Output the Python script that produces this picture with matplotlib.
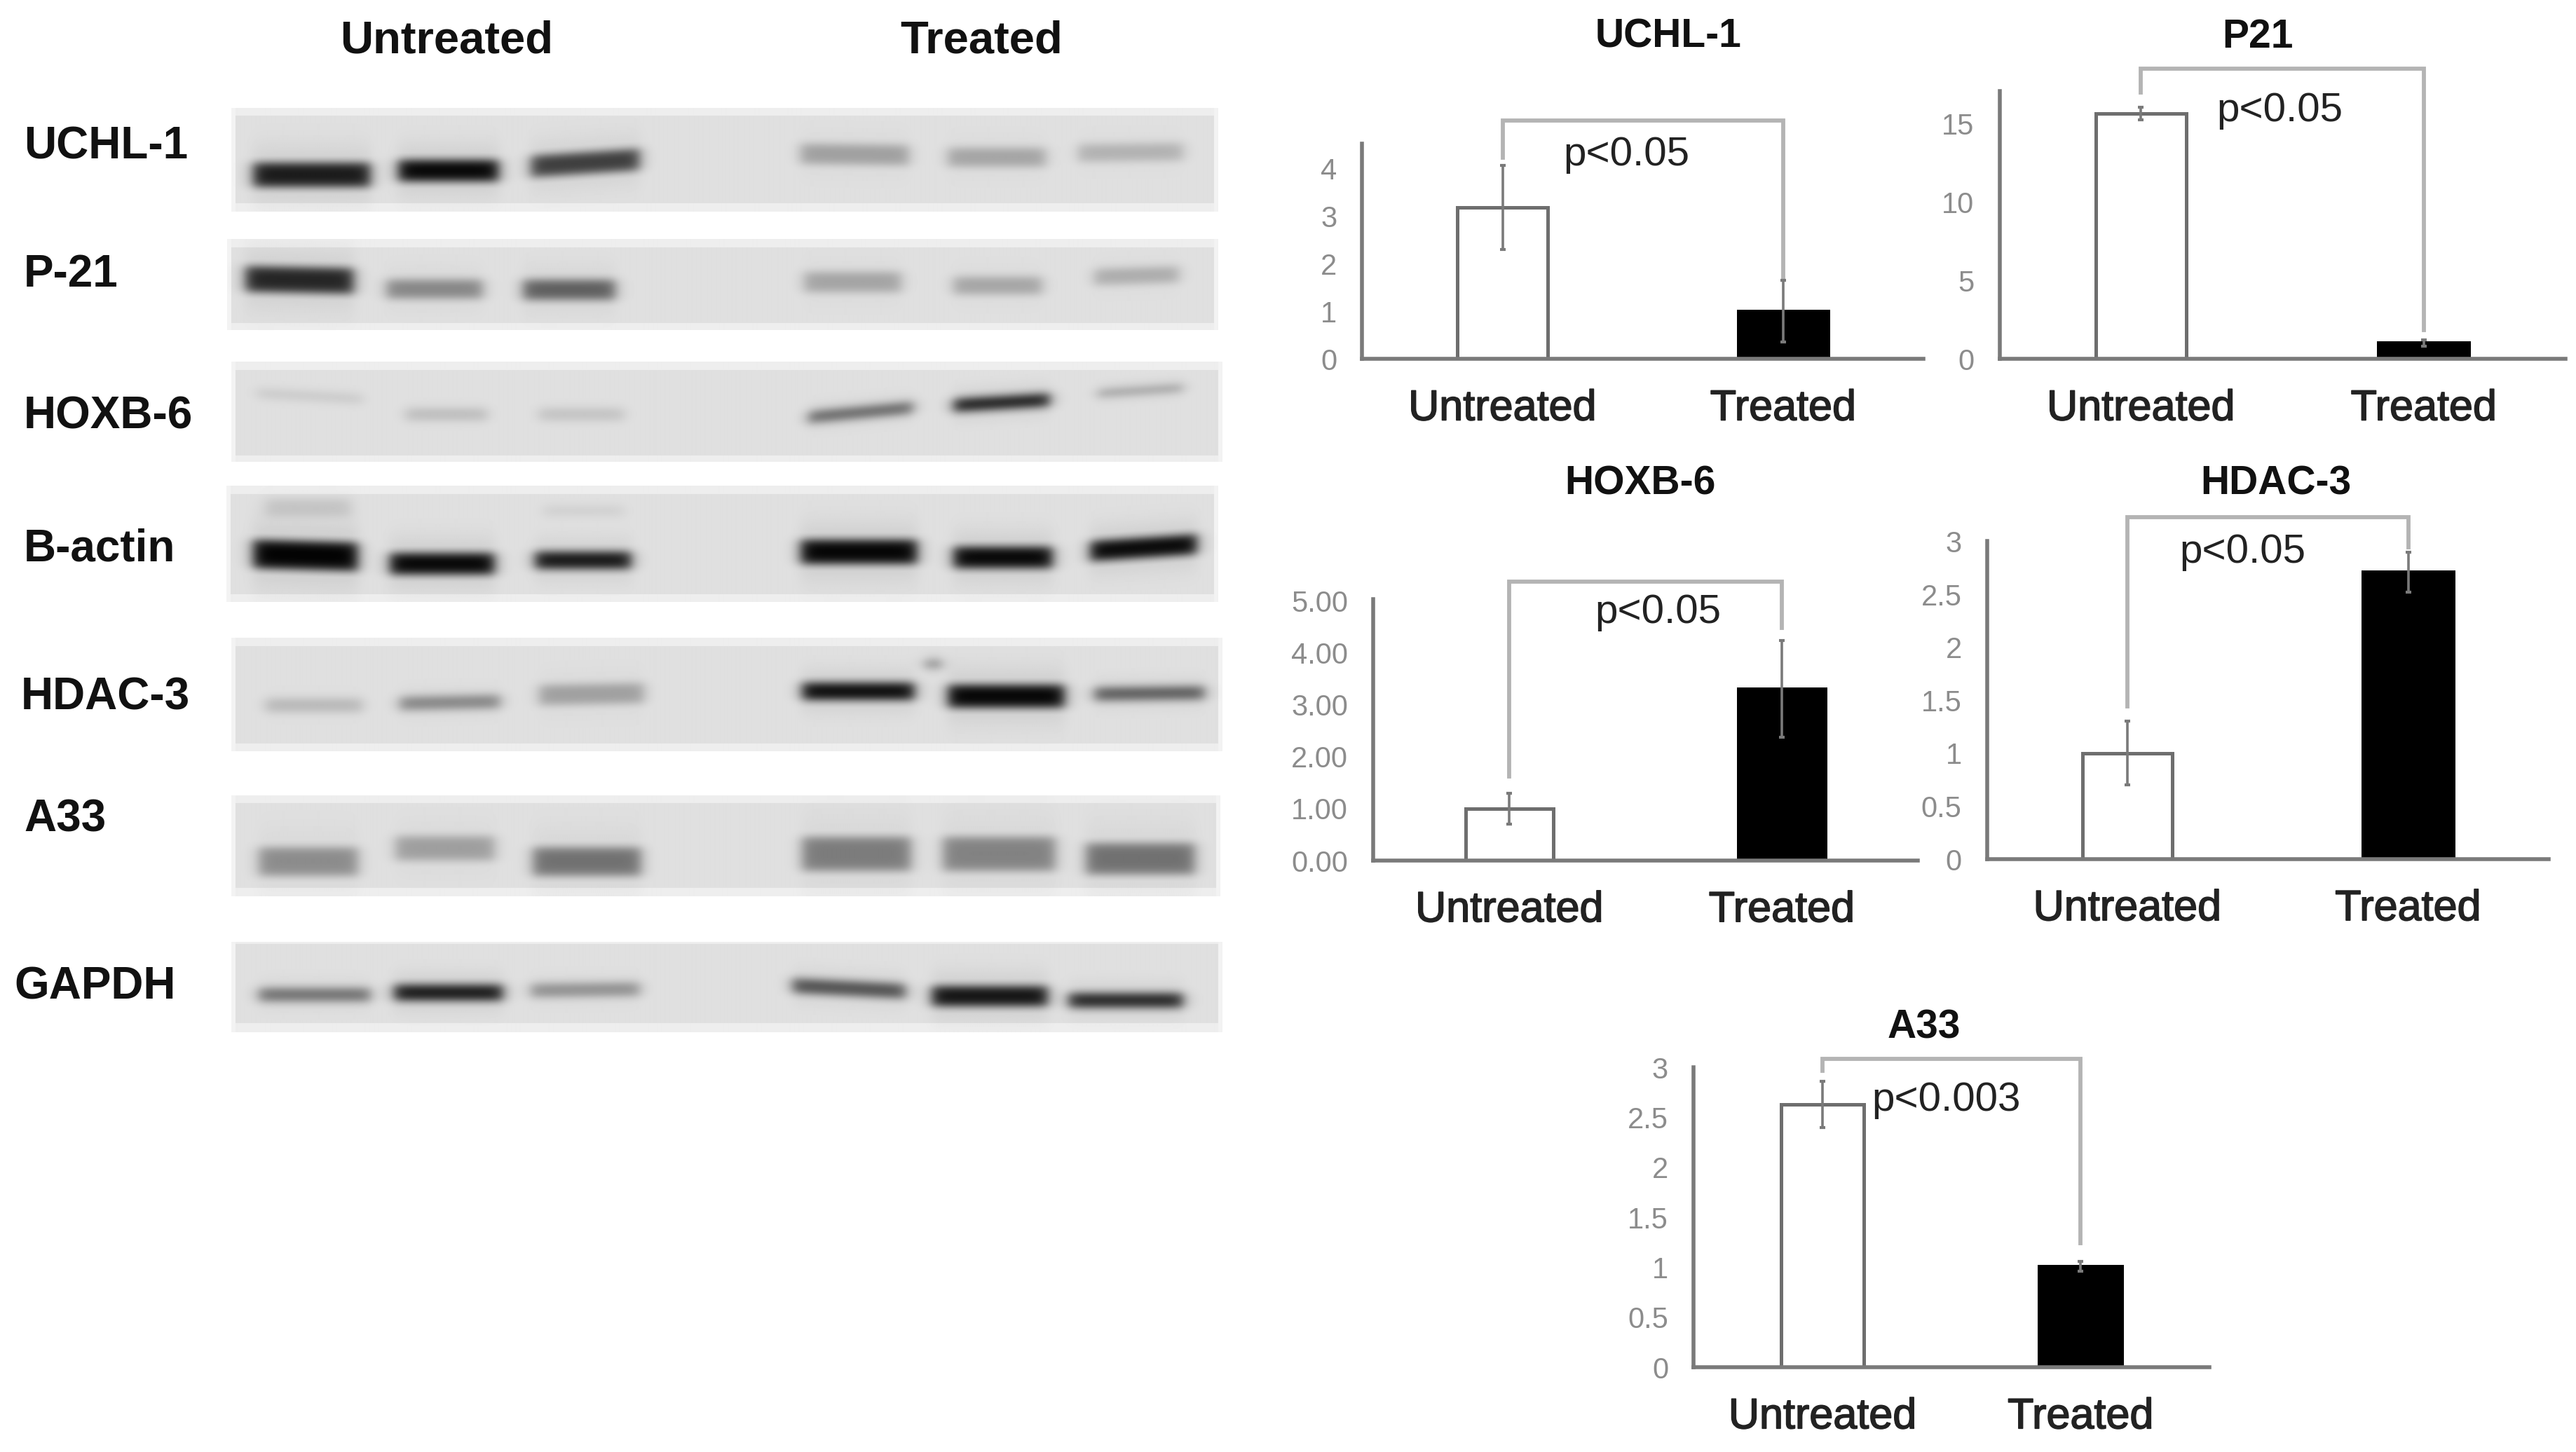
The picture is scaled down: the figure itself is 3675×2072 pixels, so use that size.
import numpy as np
import matplotlib
matplotlib.use("Agg")
import matplotlib.pyplot as plt
import matplotlib.patheffects as pe

plt.rcParams['font.family'] = ['Liberation Sans', 'DejaVu Sans']

W, H = 3675, 2072
DPI = 100

# ---------- bar chart data ----------
CATEGORIES = ["Untreated", "Treated"]
UCHL_VALUES = [3.18, 1.01]
UCHL_ERRORS = [0.88, 0.65]
P21_VALUES = [15.67, 1.03]
P21_ERRORS = [0.40, 0.20]
HOXB_VALUES = [1.00, 3.31]
HOXB_ERRORS = [0.30, 0.93]
HDAC_VALUES = [1.00, 2.71]
HDAC_ERRORS = [0.30, 0.19]
A33_VALUES = [2.63, 1.01]
A33_ERRORS = [0.23, 0.05]

UCHL_TICKS = [0, 1, 2, 3, 4]
P21_TICKS = [0, 5, 10, 15]
HOXB_TICKS = [0, 1, 2, 3, 4, 5]
HDAC_TICKS = [0, 0.5, 1, 1.5, 2, 2.5, 3]
A33_TICKS = [0, 0.5, 1, 1.5, 2, 2.5, 3]
UCHL_TICKLABELS = ["0", "1", "2", "3", "4"]
P21_TICKLABELS = ["0", "5", "10", "15"]
HOXB_TICKLABELS = ["0.00", "1.00", "2.00", "3.00", "4.00", "5.00"]
HDAC_TICKLABELS = ["0", "0.5", "1", "1.5", "2", "2.5", "3"]
A33_TICKLABELS = ["0", "0.5", "1", "1.5", "2", "2.5", "3"]

# ---------- blot labels and band readings ----------
BLOT_LABELS = ["UCHL-1", "P-21", "HOXB-6", "B-actin", "HDAC-3", "A33", "GAPDH"]
# each band: left px, right px, centre y px, half height, darkness 0-1, tilt px
UCHL_BANDS = [(363, 531, 251, 17, .90, 0), (571, 715, 245, 15, 1.0, 0), (761, 917, 234, 15, .75, -10),
              (1148, 1303, 222, 14, .30, 2), (1359, 1499, 226, 13, .28, 0), (1546, 1696, 219, 12, .22, -2)]
P21_BANDS = [(352, 507, 401, 18, .85, 3), (554, 692, 414, 13, .42, 0), (750, 882, 415, 14, .60, 0),
             (1153, 1292, 404, 14, .28, 0), (1367, 1494, 409, 12, .28, 0), (1569, 1690, 395, 11, .25, -4)]
HOXB_BANDS = [(369, 519, 568, 6, .12, 8), (582, 698, 594, 8, .18, 0), (773, 894, 594, 8, .15, 0),
              (1159, 1309, 591, 8, .60, -14), (1367, 1505, 577, 9, .95, -8), (1574, 1696, 560, 5, .35, -8)]
BACTIN_BANDS = [(363, 513, 796, 20, 1.0, 4), (559, 709, 808, 15, 1.0, 0), (767, 905, 803, 12, .95, 0),
                (1148, 1315, 791, 17, 1.0, 0), (1367, 1509, 799, 15, 1.0, 0), (1563, 1716, 785, 14, 1.0, -10),
                (381, 502, 728, 12, .12, 0), (779, 894, 733, 7, .08, 0)]
HDAC_BANDS = [(381, 519, 1007, 9, .20, 0), (573, 717, 1003, 9, .45, -3), (773, 923, 991, 14, .30, -3),
              (1150, 1311, 987, 12, 1.0, 0), (1359, 1526, 994, 16, 1.0, 0), (1569, 1727, 990, 9, .65, -2),
              (1326, 1350, 948, 6, .45, 0)]
A33_BANDS = [(371, 513, 1231, 20, .38, 0), (567, 709, 1212, 17, .30, 0), (764, 919, 1231, 20, .50, 0),
             (1150, 1306, 1220, 24, .45, 0), (1352, 1513, 1220, 24, .42, 0), (1557, 1713, 1227, 22, .50, 0)]
GAPDH_BANDS = [(371, 531, 1422, 9, .55, 0), (565, 721, 1419, 11, .95, 0), (761, 917, 1415, 9, .40, -2),
               (1136, 1298, 1413, 10, .70, 8), (1336, 1502, 1424, 14, .95, 0), (1532, 1696, 1430, 10, .90, 0)]

fig = plt.figure(figsize=(W / DPI, H / DPI), dpi=DPI, facecolor="white")

SCALE = 0.995


def mapx(x, o):
    return o[0] + (x - o[0]) * SCALE


def mapy(y, o):
    return o[1] + (y - o[1]) * SCALE


def px_axes(x0, y0, x1, y1, o):
    a, b, c, d = mapx(x0, o), mapy(y0, o), mapx(x1, o), mapy(y1, o)
    return fig.add_axes([a / W, 1 - d / H, (c - a) / W, (d - b) / H])


def px_text(x, y, s, o, **kw):
    kw.setdefault("va", "center")
    kw.setdefault("ha", "center")
    fig.text(mapx(x, o) / W, 1 - (mapy(y, o) + 5) / H, s, **kw)


def draw_blot(box, inner_y, bands, o):
    x0, y0, x1, y1 = box
    X, Y = np.meshgrid(np.arange(x0, x1), np.arange(y0, y1))
    dark = np.zeros_like(X, dtype=float)
    for left, right, cy, hh, d, tilt in bands:
        mid = (left + right) / 2
        half = (right - left) / 2
        yc = cy + tilt * (X - mid) / (2 * half)
        prof_x = 0.5 * (np.tanh((X - left) / 11) - np.tanh((X - right) / 11))
        prof_y = 0.5 * (np.tanh((Y - yc + hh) / 8) - np.tanh((Y - yc - hh) / 8))
        halo = np.exp(-((Y - yc) / (hh * 2.4)) ** 2) * prof_x * 0.10
        dark += d * np.maximum(prof_x * prof_y, halo)
    base = np.full_like(dark, 224.0)
    base[(Y < inner_y[0]) | (Y > inner_y[1])] = 238.0
    base[:, :6] = 243.0
    base[:, -6:] = 243.0
    img = base * (1 - np.clip(dark, 0, 1))
    ax = px_axes(x0, y0, x1, y1, o)
    ax.imshow(img, cmap="gray", vmin=0, vmax=255, aspect="auto", interpolation="bilinear")
    ax.axis("off")


TOP_L = (0, 0)
LOW_L = (0, 850)
draw_blot((332, 155, 1747, 304), (167, 291), UCHL_BANDS, TOP_L)
draw_blot((326, 343, 1747, 473), (355, 462), P21_BANDS, TOP_L)
draw_blot((332, 519, 1753, 662), (531, 652), HOXB_BANDS, TOP_L)
draw_blot((325, 696, 1747, 863), (709, 851), BACTIN_BANDS, TOP_L)
draw_blot((332, 910, 1753, 1073), (923, 1061), HDAC_BANDS, LOW_L)
draw_blot((332, 1136, 1750, 1281), (1148, 1268), A33_BANDS, LOW_L)
draw_blot((332, 1346, 1753, 1476), (1350, 1462), GAPDH_BANDS, LOW_L)

BLOT_LABEL_POS = [(34, 206), (34, 389), (34, 592), (34, 782), (30, 991), (35, 1166), (20, 1406)]
BLOT_LABEL_ORIGIN = [TOP_L, TOP_L, TOP_L, TOP_L, LOW_L, LOW_L, LOW_L]
for name, (lx, ly), og in zip(BLOT_LABELS, BLOT_LABEL_POS, BLOT_LABEL_ORIGIN):
    px_text(lx, ly, name, og, ha="left", fontsize=46, fontweight="bold", color="#111111")
px_text(640, 54, "Untreated", TOP_L, fontsize=47, fontweight="bold", color="#111111")
px_text(1407, 54, "Treated", TOP_L, fontsize=47, fontweight="bold", color="#111111")

AXIS_C = "#7a7a7a"
BRACKET_C = "#b4b4b4"
ERR_C = "#7a7a7a"


def bar_panel(box, o, ylim_top, values, errors, ticks, ticklabels, title, title_xy,
              bracket, ptext, p_xy):
    x0, y0, x1, y1 = box
    ax = px_axes(x0, y0, x1, y1, o)
    ax.set_xlim(-0.5, 1.5)
    ax.set_ylim(0, ylim_top)
    ax.set_facecolor("none")
    xs = np.arange(len(values))
    ax.bar(xs, values, width=0.32, color=["white", "black"],
           edgecolor=["#6e6e6e", "black"], linewidth=3.6, zorder=2)
    ax.errorbar(xs, values, yerr=errors, fmt="none", ecolor=ERR_C, elinewidth=2.6,
                capsize=3, capthick=3, zorder=3, clip_on=False)
    top, left_end, right_end = bracket
    ax.plot([0, 0, 1, 1], [left_end, top, top, right_end], color=BRACKET_C, lw=4.2,
            solid_joinstyle="miter", clip_on=False, zorder=1)
    for s in ("top", "right"):
        ax.spines[s].set_visible(False)
    for s in ("left", "bottom"):
        ax.spines[s].set_color(AXIS_C)
        ax.spines[s].set_linewidth(4)
    ax.set_yticks(ticks)
    ax.set_yticklabels(ticklabels, fontsize=30, color="#8c8c8c")
    ax.set_xticks(xs)
    ax.set_xticklabels(CATEGORIES, fontsize=44, color="#222222",
                       path_effects=[pe.withStroke(linewidth=1.2, foreground="#222222")])
    ax.tick_params(axis="y", length=0, pad=26)
    ax.tick_params(axis="x", length=0, pad=31)
    px_text(title_xy[0], title_xy[1], title, o, fontsize=41, fontweight="bold", color="#111111")
    px_text(p_xy[0], p_xy[1], ptext, o, fontsize=42, color="#222222")


TOP_R = (1800, 0)
MID_R = (1800, 650)
LOW_R = (2250, 1400)
bar_panel((1944, 206, 2749, 515), TOP_R, 4.52, UCHL_VALUES, UCHL_ERRORS, UCHL_TICKS, UCHL_TICKLABELS,
          "UCHL-1", (2383, 48), (5.0, 4.22, 1.68), "p<0.05", (2323, 217))
bar_panel((2858, 131, 3669, 515), TOP_R, 17.07, P21_VALUES, P21_ERRORS, P21_TICKS, P21_TICKLABELS,
          "P21", (3228, 48), (18.5, 17.0, 1.87), "p<0.05", (3260, 154))
bar_panel((1960, 856, 2741, 1231), MID_R, 5.03, HOXB_VALUES, HOXB_ERRORS, HOXB_TICKS, HOXB_TICKLABELS,
          "HOXB-6", (2343, 686), (5.36, 1.62, 4.48), "p<0.05", (2368, 870))
bar_panel((2840, 773, 3645, 1229), MID_R, 3.0, HDAC_VALUES, HDAC_ERRORS, HDAC_TICKS, HDAC_TICKLABELS,
          "HDAC-3", (3254, 686), (3.23, 1.44, 2.94), "p<0.05", (3206, 784))
bar_panel((2417, 1524, 3157, 1954), LOW_R, 3.0, A33_VALUES, A33_ERRORS, A33_TICKS, A33_TICKLABELS,
          "A33", (2747, 1462), (3.09, 2.97, 1.24), "p<0.003", (2779, 1566))

fig.savefig("out.png", dpi=DPI, facecolor="white")
